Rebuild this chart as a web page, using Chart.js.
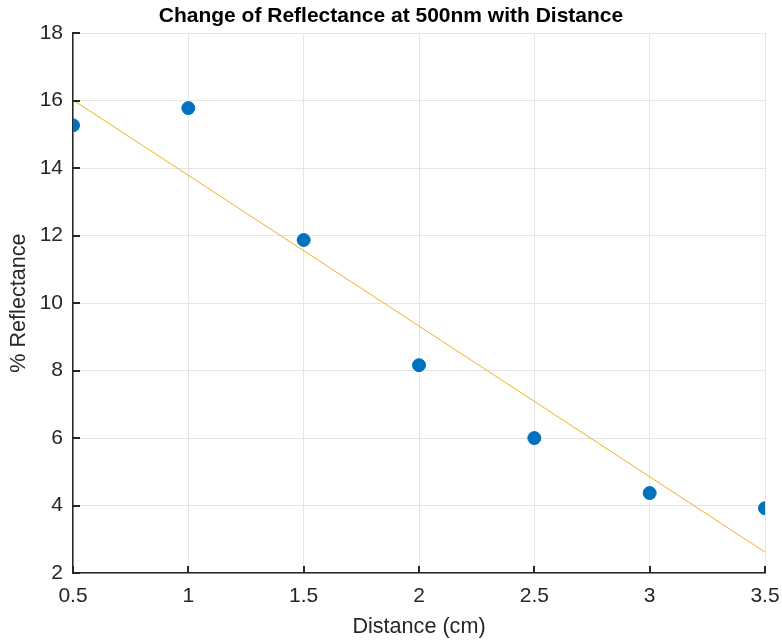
<!DOCTYPE html>
<html lang="en">
<head>
  <meta charset="UTF-8" />
  <title>Change of Reflectance at 500nm with Distance</title>
  <script src="https://cdn.jsdelivr.net/npm/chart.js"></script>
  <style>
    body {
      margin: 0;
      background: #fff;
    }
    canvas {
      display: block;
    }
  </style>
</head>
<body>
  <canvas id="reflectanceChart" width="782" height="641"></canvas>

  <script>
    // measured points
    const distance = [0.5, 1, 1.5, 2, 2.5, 3, 3.5];
    const reflectance = [15.27, 15.78, 11.87, 8.16, 6.0, 4.37, 3.92];

    // linear fit, end points
    const fitX = [0.5, 3.5];
    const fitY = [16.02, 2.62];

    const xTicks = [0.5, 1, 1.5, 2, 2.5, 3, 3.5];
    const yTicks = [2, 4, 6, 8, 10, 12, 14, 16, 18];

    const axisColor = "#262626";
    const fontFamily = "Arial, 'Liberation Sans', sans-serif";

    // MATLAB style ticks pointing into the plot
    const inwardTicks = {
      id: "inwardTicks",
      afterDraw(chart) {
        const ctx = chart.ctx;
        const x = chart.scales.x;
        const y = chart.scales.y;
        const area = chart.chartArea;
        ctx.save();
        ctx.strokeStyle = axisColor;
        ctx.lineWidth = 2;
        xTicks.forEach(v => {
          const px = Math.round(x.getPixelForValue(v));
          ctx.beginPath();
          ctx.moveTo(px, area.bottom);
          ctx.lineTo(px, area.bottom - 7);
          ctx.stroke();
        });
        yTicks.forEach(v => {
          const py = Math.round(y.getPixelForValue(v));
          ctx.beginPath();
          ctx.moveTo(area.left, py);
          ctx.lineTo(area.left + 7, py);
          ctx.stroke();
        });
        ctx.restore();
      }
    };

    new Chart(document.getElementById("reflectanceChart"), {
      type: "scatter",
      data: {
        datasets: [
          {
            label: "Data",
            data: distance.map((d, i) => ({ x: d, y: reflectance[i] })),
            backgroundColor: "#0072BD",
            borderColor: "#0072BD",
            pointRadius: 6.5,
            pointHoverRadius: 6.5
          },
          {
            label: "Fit",
            data: fitX.map((d, i) => ({ x: d, y: fitY[i] })),
            showLine: true,
            borderColor: "#EDB120",
            borderWidth: 1,
            pointRadius: 0,
            fill: false
          }
        ]
      },
      options: {
        responsive: false,
        animation: false,
        layout: {
          padding: 0
        },
        plugins: {
          legend: { display: false },
          tooltip: { enabled: false },
          title: {
            display: true,
            text: "Change of Reflectance at 500nm with Distance",
            color: "#000",
            font: { family: fontFamily, size: 21, weight: "bold" },
            padding: { top: 4, bottom: 4 }
          }
        },
        scales: {
          x: {
            type: "linear",
            min: 0.5,
            max: 3.5,
            afterBuildTicks: s => { s.ticks = xTicks.map(v => ({ value: v })); },
            afterFit: s => {
              s.height = 68;
              s.paddingLeft = 0;
              s.paddingRight = 17;
            },
            ticks: {
              color: axisColor,
              padding: 11,
              callback: v => String(v),
              font: { family: fontFamily, size: 21 }
            },
            grid: { color: "#e5e5e5", drawTicks: false },
            border: { color: axisColor, width: 1.5 },
            title: {
              display: true,
              text: "Distance (cm)",
              color: axisColor,
              font: { family: fontFamily, size: 21.6 },
              padding: { top: 2, bottom: 1 }
            }
          },
          y: {
            type: "linear",
            min: 2,
            max: 18,
            afterBuildTicks: s => { s.ticks = yTicks.map(v => ({ value: v })); },
            afterFit: s => { s.width = 73; },
            ticks: {
              color: axisColor,
              padding: 10,
              callback: v => String(v),
              font: { family: fontFamily, size: 21 }
            },
            grid: { color: "#e5e5e5", drawTicks: false },
            border: { color: axisColor, width: 1.5 },
            title: {
              display: true,
              text: "% Reflectance",
              color: axisColor,
              font: { family: fontFamily, size: 21.6 },
              padding: { top: 6, bottom: 0 }
            }
          }
        }
      },
      plugins: [inwardTicks]
    });
  </script>
</body>
</html>
